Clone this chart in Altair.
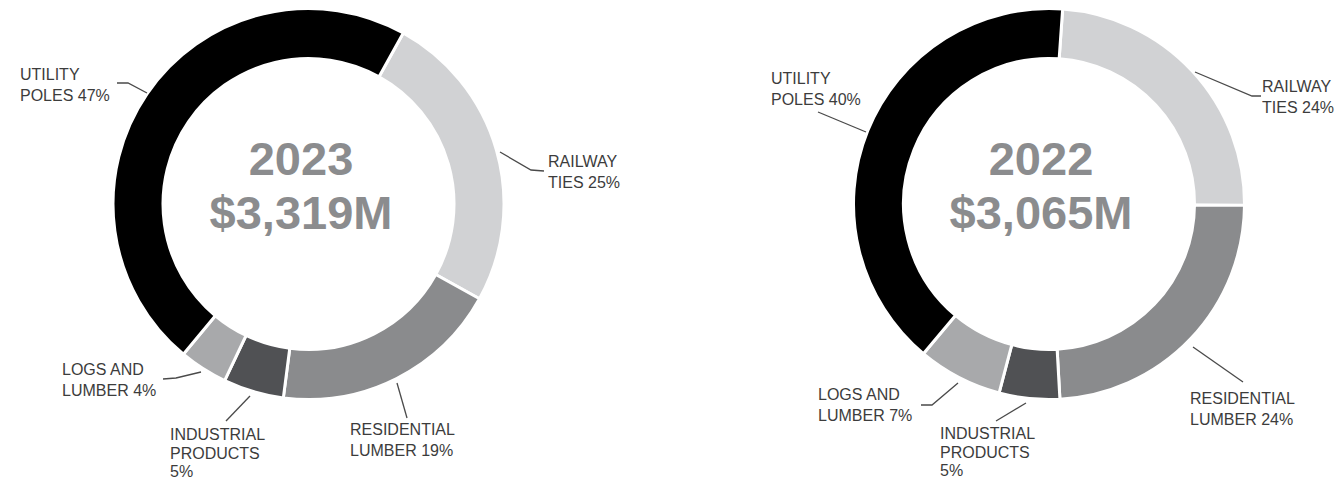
import math
import altair as alt
import pandas as pd

# ---------------- data ----------------
categories = ["RAILWAY TIES", "RESIDENTIAL LUMBER", "INDUSTRIAL PRODUCTS",
              "LOGS AND LUMBER", "UTILITY POLES"]
share_2023 = [25, 19, 5, 4, 47]
share_2022 = [24, 24, 5, 7, 40]
years = ["2023", "2022"]
totals = ["$3,319M", "$3,065M"]

# label lines (per category) for each year
labels_2023 = [["RAILWAY", "TIES 25%"], ["RESIDENTIAL", "LUMBER 19%"],
               ["INDUSTRIAL", "PRODUCTS", "5%"], ["LOGS AND", "LUMBER 4%"],
               ["UTILITY", "POLES 47%"]]
labels_2022 = [["RAILWAY", "TIES 24%"], ["RESIDENTIAL", "LUMBER 24%"],
               ["INDUSTRIAL", "PRODUCTS", "5%"], ["LOGS AND", "LUMBER 7%"],
               ["UTILITY", "POLES 40%"]]

# ---------------- layout ----------------
M = 8
W, H = 1343 - 2 * M, 489 - 2 * M
colors = ["#d1d2d4", "#8a8b8d", "#505154", "#a8a9ab", "#000000"]
centers = [(308.5 - M, 204 - M), (1049 - M, 204 - M)]
start_deg = [29, 4]
R_OUT, R_IN = 195.5, 145.5
center_text_x = [301 - M, 1041 - M]
center_text_y = [175 - M, 229 - M]

# label anchor (left x, first baseline, line spacing) in page coords, per category
label_pos = [
    [(548, 167, 20.5), (350, 435, 20.5), (170, 440, 18.5), (62, 375, 20.5), (20, 80, 20.5)],
    [(1262, 92, 20.5), (1190, 404, 20.5), (940, 439, 18.5), (818, 400, 20.5), (771, 84, 20.5)],
]
# leader polylines in page coords, per category
leaders = [
    [[(500, 152), (531, 170), (544, 171)],
     [(397, 383), (407, 418)],
     [(250, 396), (226, 421)],
     [(201, 372), (176, 378), (163, 379)],
     [(147, 93), (128, 83), (117, 83)]],
    [[(1195, 72), (1252, 96), (1261, 96)],
     [(1193, 347), (1243, 382)],
     [(1026, 403), (996, 421)],
     [(958, 383), (932, 405), (921, 405)],
     [(866, 132), (818, 112)]],
]

xs = alt.Scale(domain=[0, W], range=[0, W], nice=False, zero=False)
ys = alt.Scale(domain=[0, H], range=[0, H], nice=False, zero=False)
color_scale = alt.Scale(domain=categories, range=colors)

layers = []
for i, shares in enumerate([share_2023, share_2022]):
    df = pd.DataFrame({"cat": categories, "share": shares, "idx": range(len(categories))})
    s = math.radians(start_deg[i])
    cx, cy = centers[i]
    arc = alt.Chart(df).mark_arc(
        outerRadius=R_OUT, innerRadius=R_IN, stroke="white", strokeWidth=3
    ).encode(
        theta=alt.Theta("share:Q", stack=True,
                        scale=alt.Scale(range=[s, s + 2 * math.pi])),
        color=alt.Color("cat:N", scale=color_scale, legend=None),
        order=alt.Order("idx:Q"),
        x=alt.value(cx),
        y=alt.value(cy),
    )
    layers.append(arc)

# center texts
ct = pd.DataFrame({
    "x": center_text_x * 2,
    "y": [center_text_y[0]] * 2 + [center_text_y[1]] * 2,
    "t": [years[0], years[1], totals[0], totals[1]],
})
center_layer = alt.Chart(ct).mark_text(
    font="Liberation Sans", fontWeight="bold", fontSize=47, color="#8b8c8e",
    align="center", baseline="alphabetic"
).encode(x=alt.X("x:Q", scale=xs, axis=None), y=alt.Y("y:Q", scale=ys, axis=None), text="t:N")
layers.append(center_layer)

# label texts
rows = []
for i, labs in enumerate([labels_2023, labels_2022]):
    for j, lines in enumerate(labs):
        lx, ly, lh = label_pos[i][j]
        for k, line in enumerate(lines):
            rows.append({"x": lx - M, "y": ly - M + k * lh, "t": line})
lab_layer = alt.Chart(pd.DataFrame(rows)).mark_text(
    font="Liberation Sans", fontSize=16, color="#3c3c3c", align="left",
    baseline="alphabetic"
).encode(x=alt.X("x:Q", scale=xs, axis=None), y=alt.Y("y:Q", scale=ys, axis=None), text="t:N")
layers.append(lab_layer)

# leader lines
lrows = []
for i in range(2):
    for j, pts in enumerate(leaders[i]):
        for k, (px, py) in enumerate(pts):
            lrows.append({"g": f"{i}-{j}", "o": k, "x": px - M, "y": py - M})
lead_layer = alt.Chart(pd.DataFrame(lrows)).mark_line(
    color="#4a4a4a", strokeWidth=1.3
).encode(
    x=alt.X("x:Q", scale=xs, axis=None), y=alt.Y("y:Q", scale=ys, axis=None),
    detail="g:N", order="o:Q"
)
layers.append(lead_layer)

chart = alt.layer(*layers).resolve_scale(theta="independent").properties(
    width=W, height=H, padding=0, autosize=alt.AutoSizeParams(type="none")
).configure_view(stroke=None)

chart.save("out.html", embed_options={"renderer": "svg", "actions": False})
